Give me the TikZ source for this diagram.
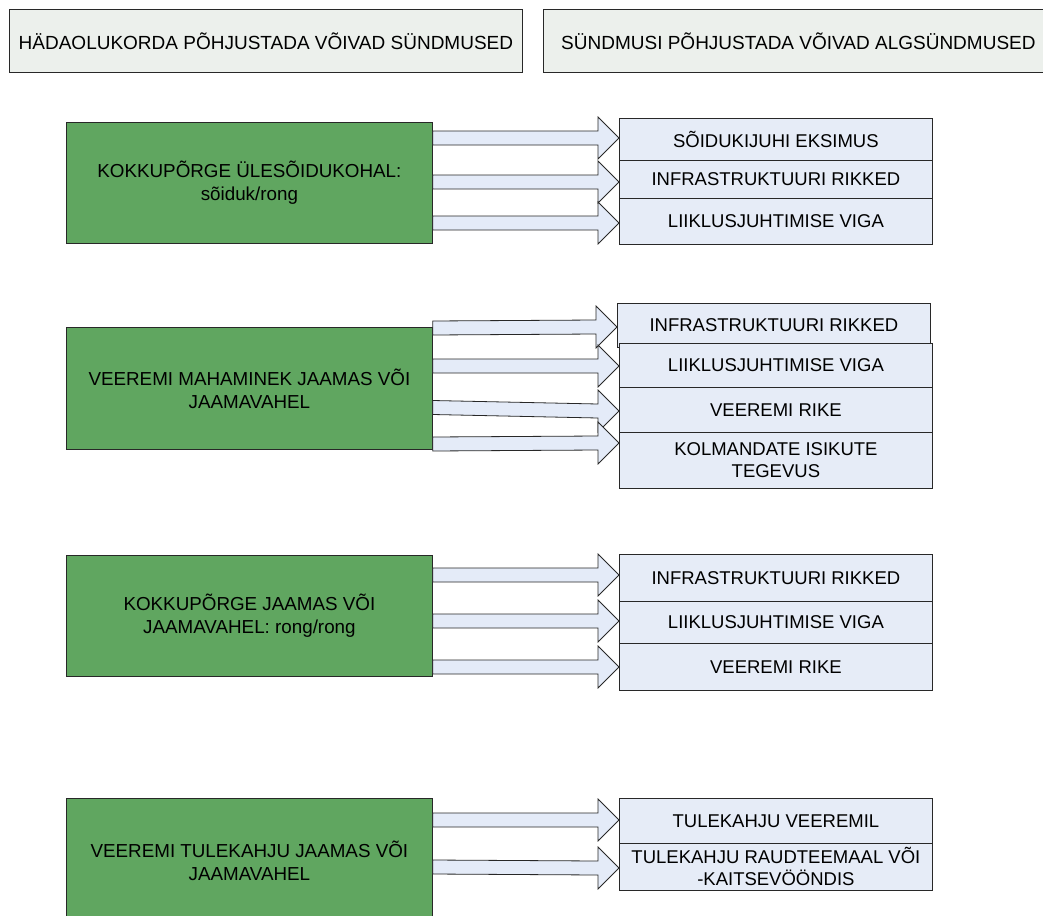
\documentclass[tikz,border=0pt]{standalone}
\usepackage{fontspec}
\setmainfont{Liberation Sans}
\usetikzlibrary{calc}
\definecolor{hdrfill}{RGB}{236,240,236}
\definecolor{greenfill}{RGB}{96,166,96}
\definecolor{boxfill}{RGB}{230,236,247}
\definecolor{arrfill}{RGB}{228,235,248}
\definecolor{edge}{RGB}{40,40,40}
\tikzset{
  hdr/.style={draw=edge, line width=0.8pt, fill=hdrfill, anchor=north west, inner sep=0pt,
    font=\fontsize{19}{23}\selectfont, minimum height=63pt},
  green/.style={draw=edge, line width=0.8pt, fill=greenfill, anchor=north west, inner sep=0pt,
    minimum width=366pt, align=center, font=\fontsize{18.8}{23}\selectfont},
  cause/.style={draw=edge, line width=0.8pt, fill=boxfill, anchor=north west, inner sep=0pt,
    minimum width=313pt, align=center, font=\fontsize{18.5}{22}\selectfont},
  barrow/.style={draw=edge, line width=0.8pt, fill=arrfill, line join=miter}
}
\newcommand{\blockarr}[4]{%
  \draw[barrow] let \p1=(#1.east), \p2=(#2.west) in
    (\x1,{-#3pt+7pt}) -- (\x2-21pt,{-#4pt+7pt}) -- (\x2-21pt,{-#4pt+21pt}) -- (\x2,{-#4pt})
    -- (\x2-21pt,{-#4pt-21pt}) -- (\x2-21pt,{-#4pt-7pt}) -- (\x1,{-#3pt-7pt}) -- cycle;}
\begin{document}
\begin{tikzpicture}[x=1pt,y=-1pt]
\useasboundingbox (0,0) rectangle (1043,915);
% headers
\node[hdr, minimum width=513pt] (h1) at (9,9) {HÄDAOLUKORDA PÕHJUSTADA VÕIVAD SÜNDMUSED};
\node[hdr, minimum width=510pt] (h2) at (543,9) {SÜNDMUSI PÕHJUSTADA VÕIVAD ALGSÜNDMUSED};
% green boxes
\node[green, minimum height=121pt] (g1) at (66,122) {KOKKUPÕRGE ÜLESÕIDUKOHAL:\\sõiduk/rong};
\node[green, minimum height=122pt] (g2) at (66,327) {VEEREMI MAHAMINEK JAAMAS VÕI\\JAAMAVAHEL};
\node[green, minimum height=121pt] (g3) at (66,555) {KOKKUPÕRGE JAAMAS VÕI\\JAAMAVAHEL: rong/rong};
\node[green, minimum height=125pt] (g4) at (66,798) {VEEREMI TULEKAHJU JAAMAS VÕI\\JAAMAVAHEL};
% group 1
\node[cause, minimum height=42pt] (r11) at (619,118) {SÕIDUKIJUHI EKSIMUS};
\node[cause, minimum height=38pt] (r12) at (619,160) {INFRASTRUKTUURI RIKKED};
\node[cause, minimum height=46pt] (r13) at (619,198) {LIIKLUSJUHTIMISE VIGA};
\blockarr{g1}{r11}{138}{138}
\blockarr{g1}{r12}{182}{182}
\blockarr{g1}{r13}{223}{223}
% group 2
\node[cause, minimum height=44pt] (r21) at (617,303) {INFRASTRUKTUURI RIKKED};
\node[cause, minimum height=44pt] (r22) at (619,343) {LIIKLUSJUHTIMISE VIGA};
\node[cause, minimum height=45pt] (r23) at (619,387) {VEEREMI RIKE};
\node[cause, minimum height=56pt] (r24) at (619,432) {KOLMANDATE ISIKUTE\\TEGEVUS};
\blockarr{g2}{r21}{328}{327}
\blockarr{g2}{r22}{366}{366}
\blockarr{g2}{r23}{407.5}{411}
\blockarr{g2}{r24}{444}{443}
% group 3
\node[cause, minimum height=47pt] (r31) at (619,554) {INFRASTRUKTUURI RIKKED};
\node[cause, minimum height=42pt] (r32) at (619,601) {LIIKLUSJUHTIMISE VIGA};
\node[cause, minimum height=47pt] (r33) at (619,643) {VEEREMI RIKE};
\blockarr{g3}{r31}{575}{575}
\blockarr{g3}{r32}{621}{621}
\blockarr{g3}{r33}{667}{667}
% group 4
\node[cause, minimum height=45pt] (r41) at (619,798) {TULEKAHJU VEEREMIL};
\node[cause, minimum height=47pt] (r42) at (619,843) {TULEKAHJU RAUDTEEMAAL VÕI\\-KAITSEVÖÖNDIS};
\blockarr{g4}{r41}{820}{820}
\blockarr{g4}{r42}{867}{868}
\end{tikzpicture}
\end{document}
